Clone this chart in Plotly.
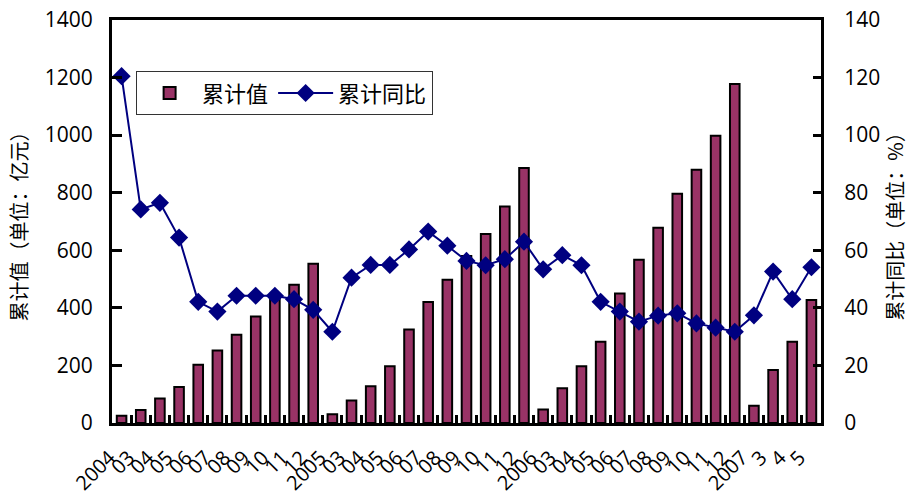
import plotly.graph_objects as go

labels = ["2004", "03", "04", "05", "06", "07", "08", "09", "10", "11", "12",
          "2005", "03", "04", "05", "06", "07", "08", "09", "10", "11", "12",
          "2006", "03", "04", "05", "06", "07", "08", "09", "10", "11", "12",
          "2007", "3", "4", "5"]
cum_value = [25, 45, 85, 125, 202, 252, 307, 370, 430, 480, 553,
             30, 78, 128, 197, 325, 420, 498, 580, 657, 752, 886,
             47, 121, 197, 282, 450, 567, 678, 796, 880, 998, 1178,
             60, 184, 282, 427]
cum_yoy = [120.5, 74.2, 76.5, 64.4, 42.1, 38.7, 44.2, 44.2, 44.2, 43.0, 39.3,
           31.7, 50.5, 54.9, 54.9, 60.3, 66.5, 61.6, 56.3, 54.8, 56.9, 63.0,
           53.4, 58.3, 54.8, 42.1, 38.7, 35.2, 37.3, 38.1, 34.6, 33.1, 31.7,
           37.4, 52.6, 43.0, 54.1]

x = list(range(len(labels)))
boundaries = [i - 0.5 for i in range(len(labels) + 1)]
font_fam = "Open Sans, Noto Sans CJK SC, sans-serif"
cjk = "Noto Sans CJK SC, sans-serif"

fig = go.Figure()
fig.add_trace(go.Bar(
    x=x, y=cum_value, name="累计值", width=0.5,
    marker=dict(color="#993366", line=dict(color="black", width=2)),
    yaxis="y",
))
fig.add_trace(go.Scatter(
    x=x, y=cum_yoy, name="累计同比", mode="lines+markers",
    line=dict(color="#000080", width=2),
    marker=dict(symbol="diamond", size=14, color="#000080"),
    yaxis="y2",
))
fig.add_trace(go.Scatter(x=[], y=[], xaxis="x2", yaxis="y",
                         showlegend=False, hoverinfo="skip"))

fig.update_layout(
    width=909, height=493,
    margin=dict(l=112, r=88, t=20, b=70, autoexpand=False),
    plot_bgcolor="white", paper_bgcolor="white",
    font=dict(family=font_fam, size=21, color="black"),
    showlegend=True,
    legend=dict(
        orientation="h", x=0.034, y=0.873, xanchor="left", yanchor="top",
        bgcolor="white", bordercolor="#333333", borderwidth=1,
        font=dict(size=22, family=cjk),
        itemwidth=55,
    ),
    xaxis=dict(
        range=[-0.5, len(labels) - 0.5], automargin=False,
        tickmode="array", tickvals=x, ticktext=labels, tickangle=-45,
        ticks="", showgrid=False, zeroline=False,
        showline=True, linecolor="black", linewidth=3, mirror=True,
        tickfont=dict(size=20),
        ticklabelshift=-12, ticklabelstandoff=12,
    ),
    xaxis2=dict(
        range=[-0.5, len(labels) - 0.5], overlaying="x", anchor="y",
        side="bottom", automargin=False,
        tickmode="array", tickvals=boundaries, showticklabels=False,
        ticks="inside", ticklen=8, tickwidth=3, tickcolor="black",
        showgrid=False, zeroline=False, showline=False,
    ),
    yaxis=dict(
        range=[0, 1400], dtick=200, ticks="inside", ticklen=10, tickwidth=3,
        tickcolor="black", showgrid=False, zeroline=False, automargin=False,
        showline=True, linecolor="black", linewidth=3,
        ticklabelstandoff=12,
        title=dict(text="累计值（单位：亿元）",
                   font=dict(size=20, family=cjk), standoff=12),
    ),
    yaxis2=dict(
        range=[0, 140], dtick=20, overlaying="y", side="right",
        ticks="inside", ticklen=8, tickwidth=3, tickcolor="black",
        showgrid=False, zeroline=False, automargin=False,
        showline=True, linecolor="black", linewidth=3,
        ticklabelstandoff=16,
        title=dict(text="累计同比（单位：%）",
                   font=dict(size=20, family=cjk), standoff=5),
    ),
)

fig.write_html("out.html", config={"displayModeBar": False},
               post_script="document.body.style.margin='0';")
